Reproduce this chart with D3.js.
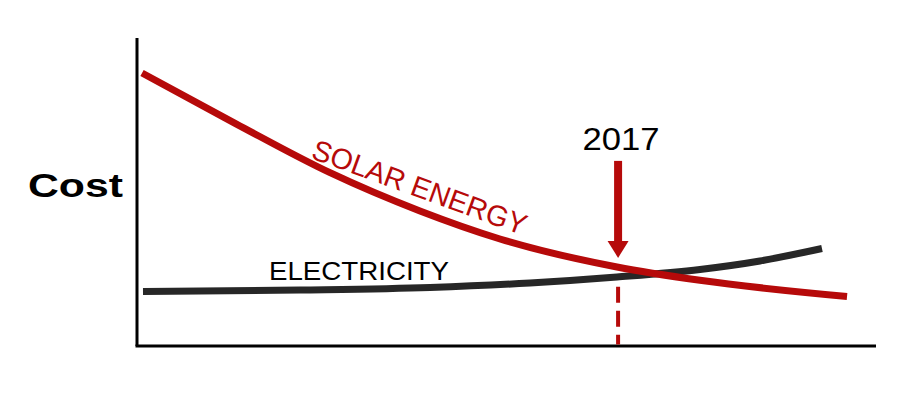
<!DOCTYPE html>
<html>
<head>
<meta charset="utf-8">
<script src="https://cdn.jsdelivr.net/npm/d3@7"></script>
<style>
  html, body { margin: 0; padding: 0; background: #fff; }
  svg { display: block; font-family: "Liberation Sans", Arial, sans-serif; }
</style>
</head>
<body>
<div id="chart"></div>
<script>
// ---- data (abstract time 0..100, abstract cost 0..100) ----
const solarTime  = [0.68, 13.40, 26.12, 38.29, 49.12, 64.95, 76.18, 96.08];
const solarCost  = [88.64, 72.14, 56.27, 43.83, 34.74, 25.65, 21.33, 16.07];
const elecTime   = [0.81, 22.06, 39.65, 53.18, 64.95, 76.18, 84.30, 92.69];
const elecCost   = [17.69, 18.18, 18.99, 20.45, 22.40, 24.84, 27.60, 31.66];
const markerTime = 65.1;          // 2017
const markerLabel = "2017";
const arrowTop = 60.1, arrowHeadBase = 34.1, arrowTip = 28.6, dashTop = 19.2;
const yLabel = "Cost";
const solarLabel = "SOLAR ENERGY";
const elecLabel = "ELECTRICITY";

const W = 900, H = 400;
const RED = "#b60a0a", DARK = "#272727";

const svg = d3.select("#chart").append("svg").attr("width", W).attr("height", H);

const x = d3.scaleLinear().domain([0, 100]).range([137, 876]);
const y = d3.scaleLinear().domain([0, 100]).range([346, 38]);

const line = d3.line().x(d => x(d[0])).y(d => y(d[1])).curve(d3.curveMonotoneX);

// axes (no ticks)
svg.append("line").attr("x1", x(0)).attr("x2", x(0)).attr("y1", y(100)).attr("y2", y(0))
  .attr("stroke", "#000").attr("stroke-width", 3);
svg.append("line").attr("x1", x(0) - 1.5).attr("x2", x(100)).attr("y1", y(0)).attr("y2", y(0))
  .attr("stroke", "#000").attr("stroke-width", 3);

// dashed marker line
svg.append("line").attr("x1", x(markerTime)).attr("x2", x(markerTime))
  .attr("y1", y(dashTop)).attr("y2", y(0) - 1.5)
  .attr("stroke", RED).attr("stroke-width", 4).attr("stroke-dasharray", "16,8");

// electricity line
svg.append("path").datum(d3.zip(elecTime, elecCost)).attr("d", line)
  .attr("fill", "none").attr("stroke", DARK).attr("stroke-width", 7);

// solar line
svg.append("path").datum(d3.zip(solarTime, solarCost)).attr("d", line)
  .attr("fill", "none").attr("stroke", RED).attr("stroke-width", 7);

// arrow
const ax = x(markerTime);
svg.append("line").attr("x1", ax).attr("x2", ax).attr("y1", y(arrowTop)).attr("y2", y(arrowHeadBase) + 1)
  .attr("stroke", RED).attr("stroke-width", 8);
svg.append("path")
  .attr("d", `M${ax - 10.5},${y(arrowHeadBase)}L${ax + 10.5},${y(arrowHeadBase)}L${ax},${y(arrowTip)}Z`)
  .attr("fill", RED);

// labels
svg.append("text").attr("x", 28).attr("y", 197).text(yLabel)
  .attr("font-size", 33).attr("font-weight", "bold").attr("fill", "#000")
  .attr("textLength", 95).attr("lengthAdjust", "spacingAndGlyphs");

svg.append("text").attr("x", ax + 3).attr("y", 150).attr("text-anchor", "middle").text(markerLabel)
  .attr("font-size", 32).attr("fill", "#000")
  .attr("textLength", 77).attr("lengthAdjust", "spacingAndGlyphs");

svg.append("text").attr("x", 269).attr("y", 280).text(elecLabel)
  .attr("font-size", 25).attr("fill", "#000")
  .attr("textLength", 180).attr("lengthAdjust", "spacingAndGlyphs");

svg.append("text").attr("transform", "translate(310,158) rotate(20)").text(solarLabel)
  .attr("font-size", 29).attr("fill", RED)
  .attr("textLength", 226).attr("lengthAdjust", "spacingAndGlyphs");
</script>
</body>
</html>
